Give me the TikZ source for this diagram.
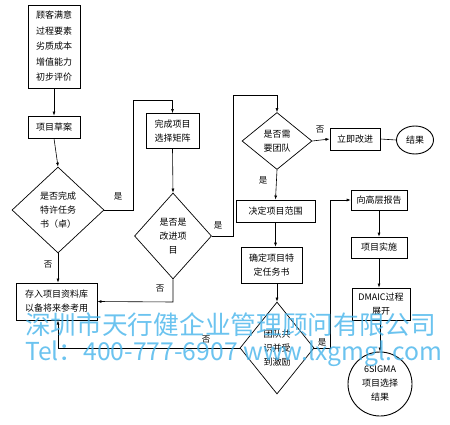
\documentclass[tikz,border=0pt]{standalone}
\usepackage{fontspec}
\setmainfont{Liberation Serif}
\newfontfamily\cjk{Noto Sans CJK SC}
\usetikzlibrary{shapes.geometric,arrows.meta}
\definecolor{wmblue}{RGB}{70,180,235}
\begin{document}
\begin{tikzpicture}[x=1pt,y=-1pt,
  every node/.style={font=\cjk\fontsize{9}{14}\selectfont},
  box/.style={draw,rectangle,inner sep=1pt,align=center,line width=0.9pt},
  thinbox/.style={draw,rectangle,inner sep=1pt,align=center,line width=0.6pt},
  dia/.style={draw,diamond,inner sep=0pt,align=center,line width=0.7pt},
  conn/.style={line width=0.6pt},
  arr/.style={conn,-{Latex[length=4pt,width=3pt]}},
  lbl/.style={font=\cjk\fontsize{8.5}{10}\selectfont},
  wm/.style={text=wmblue,opacity=0.8,inner sep=0pt,anchor=west}]
\useasboundingbox (0,0) rectangle (450,425);
% nodes
\node[box,minimum width=52,minimum height=83,font=\cjk\fontsize{9}{15.5}\selectfont] (b1) at (54,46.5) {顾客满意\\过程要素\\劣质成本\\增值能力\\初步评价};
\node[box,minimum width=52,minimum height=22] (b2) at (54,127) {项目草案};
\node[dia,minimum width=92,minimum height=86] (d1) at (58,210) {};
\node[align=center] at (d1) {是否完成\\特许任务\\书（卓）};
\node[box,minimum width=53,minimum height=35] (b3) at (172.5,131) {完成项目\\选择矩阵};
\node[dia,minimum width=77,minimum height=86] (d2) at (173,236) {};
\node[align=center] at (d2) {是否是\\改进项\\目};
\node[dia,minimum width=70,minimum height=57] (d3) at (277,141) {};
\node[align=center] at (d3) {是否需\\要团队};
\node[box,minimum width=50,minimum height=22] (b4) at (355,139) {立即改进};
\node[draw,ellipse,line width=0.9pt,minimum width=37,minimum height=28,inner sep=0pt] (e1) at (415,140) {结果};
\node[box,minimum width=79,minimum height=22] (b5) at (275.5,211) {决定项目范围};
\node[thinbox,minimum width=61,minimum height=36] (b6) at (271.5,265) {确定项目特\\定任务书};
\node[dia,minimum width=74,minimum height=92] (d4) at (277,348) {};
\node[align=center] at (d4) {团队共\\识并受\\到激励};
\node[thinbox,minimum width=56,minimum height=20] (b7) at (379,200) {向高层报告};
\node[thinbox,minimum width=56,minimum height=21] (b8) at (379,247.5) {项目实施};
\node[box,minimum width=58,minimum height=32] (b9) at (381,304) {DMAIC过程\\展开};
\node[draw,circle,line width=0.9pt,minimum size=64,inner sep=0pt,align=center] (c1) at (380,384) {6SIGMA\\项目选择\\结果};
\node[box,minimum width=81,minimum height=37] (b10) at (56.5,301.5) {存入项目资料库\\以备将来参考用};
% connectors
\draw[arr] (b1.south) -- (b2.north);
\draw[arr] (b2.south) -- (d1.north);
\draw[arr] (d1.east) -- (133,210) -- (133,100) -- (b3.north |- 0,100) -- (b3.north);
\draw[arr] (b3.south) -- (d2.north);
\draw[arr] (d2.east) -- (233,236) -- (233,95) -- (d3.north |- 0,95) -- (d3.north);
\draw[arr] (d3.east) -- (b4.west);
\draw[conn] (b4.east) -- (e1.west);
\draw[arr] (d3.south) -- (b5.north);
\draw[arr] (b5.south) -- (b6.north -| b5.south);
\draw[arr] (b6.south -| d4.north) -- (d4.north);
\draw[arr] (d4.east) -- (330,348) -- (330,200) -- (b7.west);
\draw[arr] (b7.south) -- (b8.north);
\draw[arr] (b8.south) -- (b9.north -| b8.south);
\draw[arr] (b9.south -| c1.north) -- (c1.north);
\draw[arr] (d1.south) -- (b10.north -| d1.south);
\draw[arr] (d2.south) -- (173,302) -- (b10.east);
\draw[arr] (d4.west) -- (58,348) -- (58,320.5);
% labels
\node[lbl] at (118,196) {是};
\node[lbl] at (218,225) {是};
\node[lbl] at (320,130) {否};
\node[lbl] at (263,180) {是};
\node[lbl] at (322,342) {是};
\node[lbl] at (48,265) {否};
\node[lbl] at (160,289) {否};
\node[lbl] at (206,340) {否};
% watermark
\node[wm,font=\cjk\fontsize{25.7}{26}\selectfont] (w1) at (25,325) {深圳市天行健企业管理顾问有限公司};
\node[wm,font=\cjk\fontsize{24.7}{25}\selectfont] (w2) at (25,354) {Tel：400-777-6907 www.lxgmgl.com};
\end{tikzpicture}
\end{document}
